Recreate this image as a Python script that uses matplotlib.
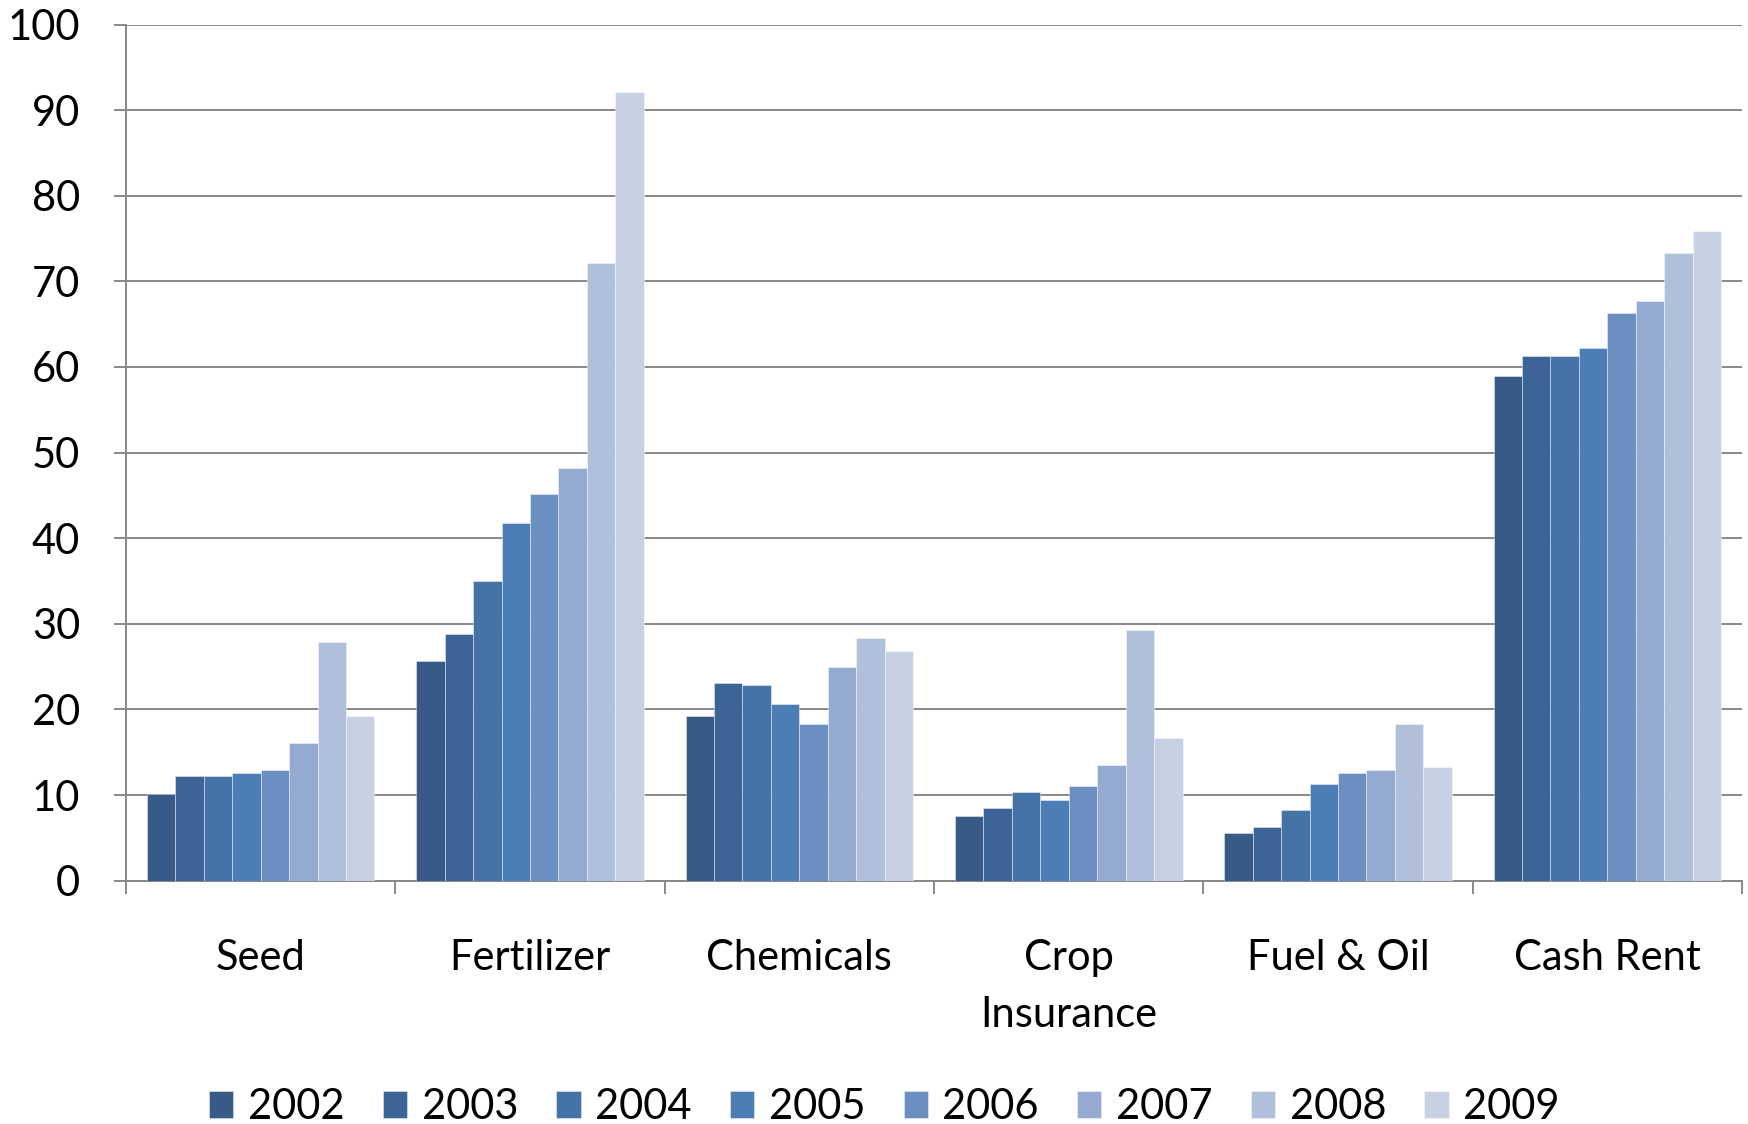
import matplotlib
matplotlib.use("Agg")
import matplotlib.pyplot as plt
import numpy as np

categories = ["Seed", "Fertilizer", "Chemicals", "Crop\nInsurance", "Fuel & Oil", "Cash Rent"]
years = ["2002", "2003", "2004", "2005", "2006", "2007", "2008", "2009"]
# values[year] -> list over categories
v2002 = [10.1, 25.6, 19.2, 7.6, 5.6, 58.9]
v2003 = [12.2, 28.8, 23.1, 8.5, 6.3, 61.3]
v2004 = [12.2, 35.0, 22.9, 10.3, 8.3, 61.3]
v2005 = [12.6, 41.8, 20.6, 9.4, 11.3, 62.2]
v2006 = [12.9, 45.2, 18.3, 11.0, 12.6, 66.3]
v2007 = [16.1, 48.2, 25.0, 13.5, 12.9, 67.7]
v2008 = [27.9, 72.2, 28.4, 29.3, 18.3, 73.3]
v2009 = [19.2, 92.1, 26.8, 16.7, 13.3, 75.9]
series = [v2002, v2003, v2004, v2005, v2006, v2007, v2008, v2009]
colors = ["#375A87", "#3D6496", "#4572A7", "#4C7DB5", "#6C8FC2", "#95AAD0", "#B0C0DB", "#C8D1E3"]
yticks = [0, 10, 20, 30, 40, 50, 60, 70, 80, 90, 100]

plt.rcParams['font.family'] = ['Lato', 'DejaVu Sans']

fig = plt.figure(figsize=(17.48, 11.24), dpi=100)
ax = fig.add_axes([0.0721, 0.2165, 0.9245, 0.7617])

x = np.arange(len(categories))
w = 0.845 / len(years)
handles = []
for i, (yr, vals, c) in enumerate(zip(years, series, colors)):
    b = ax.bar(x + (i - 3.5) * w, vals, width=w, color=c, edgecolor=(1, 1, 1, 0.5),
               linewidth=0.6, label=yr, zorder=3)
    handles.append(b)

ax.set_xlim(-0.5, len(categories) - 0.5)
ax.set_ylim(0, 100)
ax.set_yticks(yticks)
ax.set_yticklabels([str(t) for t in yticks], fontsize=30)
ax.yaxis.grid(True, color="#888888", linewidth=1.4, zorder=0)
ax.set_axisbelow(True)

ax.set_xticks(x)
ax.set_xticklabels(categories, fontsize=30, linespacing=1.6)
ax.set_xticks(np.arange(-0.5, len(categories), 1.0), minor=True)
ax.tick_params(axis='x', which='major', length=0, pad=42)
ax.tick_params(axis='x', which='minor', length=9, width=1.4, color="#888888", direction='out')
ax.tick_params(axis='y', length=9, width=1.4, color="#888888", pad=24, direction='out')

for s in ['top', 'right']:
    ax.spines[s].set_visible(False)
for s in ['left', 'bottom']:
    ax.spines[s].set_color("#888888")
    ax.spines[s].set_linewidth(1.4)

fig.legend(handles=handles, labels=years, loc='center', bbox_to_anchor=(0.506, 0.015),
           ncol=8, frameon=False, fontsize=30, handlelength=0.58, handleheight=0.62,
           handletextpad=0.35, columnspacing=0.92)

fig.savefig("out.png", dpi=100)
